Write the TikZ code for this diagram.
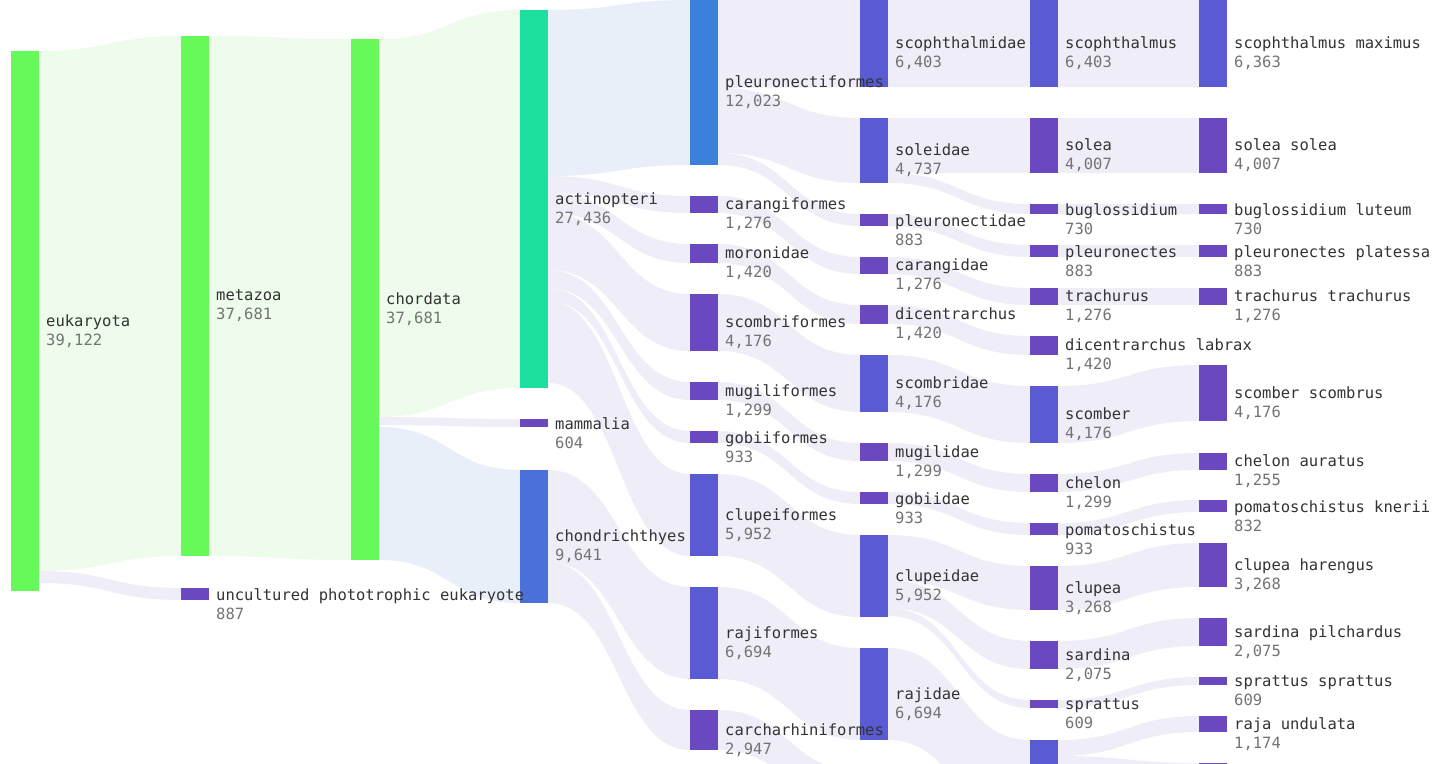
\documentclass[tikz,border=0pt]{standalone}
\usepackage{fontspec}
\setmonofont{DejaVu Sans Mono}
\usetikzlibrary{positioning}
\definecolor{greenNode}{HTML}{66F95A}
\definecolor{tealNode}{HTML}{1DE09F}
\definecolor{blueNode}{HTML}{3B80DD}
\definecolor{chondNode}{HTML}{4A70D9}
\definecolor{purpNode}{HTML}{6A48BF}
\definecolor{slateNode}{HTML}{5A5AD3}
\definecolor{greenFlow}{HTML}{EDFCEB}
\definecolor{lavFlow}{HTML}{EFEEF8}
\definecolor{blueFlow}{HTML}{E9EFF9}
\colorlet{nameColor}{black!80}
\colorlet{valColor}{black!55}
\pgfdeclarelayer{flows}
\pgfdeclarelayer{bars}
\pgfsetlayers{flows,bars,main}
\tikzset{
  lab/.style={anchor=west,align=left,inner sep=0pt,font=\ttfamily\fontsize{15.5}{19}\selectfont,text=nameColor},
}
% sankey node: name, x, top, bottom, colour, label, value
\newcommand{\sNode}[7]{%
  \begin{pgfonlayer}{bars}\fill[#5] (#2,#3) rectangle ({#2+28},#4);\end{pgfonlayer}
  \node[lab] (#1) at ({#2+35},{(#3+#4)/2+10}) {#6\\\textcolor{valColor}{#7}};}
% flow band: x1, top1, bot1, x2, top2, bot2, colour
\newcommand{\sFlow}[7]{%
  \begin{pgfonlayer}{flows}
  \fill[#7] (#1,#2) .. controls ({(#1+#4)/2},#2) and ({(#1+#4)/2},#5) .. (#4,#5)
    -- (#4,#6) .. controls ({(#1+#4)/2},#6) and ({(#1+#4)/2},#3) .. (#1,#3) -- cycle;
  \end{pgfonlayer}}
\begin{document}
\begin{tikzpicture}[x=1pt,y=-1pt]
\useasboundingbox (0,0) rectangle (1450,763);
\clip (0,0) rectangle (1450,763);
% flows
\sFlow{39}{51}{571}{181}{36}{556}{greenFlow}
\sFlow{39}{571}{583}{181}{588}{600}{lavFlow}
\sFlow{209}{36}{556}{351}{39}{560}{greenFlow}
\sFlow{379}{39}{417}{520}{10}{388}{greenFlow}
\sFlow{379}{417}{425}{520}{419}{427}{lavFlow}
\sFlow{379}{427}{560}{520}{470}{603}{blueFlow}
\sFlow{548}{10}{176}{690}{0}{165}{blueFlow}
\sFlow{548}{176}{193}{690}{196}{213}{lavFlow}
\sFlow{548}{193}{213}{690}{244}{263}{lavFlow}
\sFlow{548}{213}{270}{690}{294}{351}{lavFlow}
\sFlow{548}{270}{288}{690}{382}{400}{lavFlow}
\sFlow{548}{288}{301}{690}{431}{443}{lavFlow}
\sFlow{548}{301}{383}{690}{474}{556}{lavFlow}
\sFlow{548}{470}{562}{690}{587}{679}{lavFlow}
\sFlow{548}{562}{603}{690}{710}{750}{lavFlow}
\sFlow{718}{0}{88}{860}{0}{87}{lavFlow}
\sFlow{718}{88}{153}{860}{118}{183}{lavFlow}
\sFlow{718}{153}{165}{860}{214}{226}{lavFlow}
\sFlow{718}{196}{213}{860}{257}{274}{lavFlow}
\sFlow{718}{244}{263}{860}{305}{324}{lavFlow}
\sFlow{718}{294}{351}{860}{355}{412}{lavFlow}
\sFlow{718}{382}{400}{860}{443}{461}{lavFlow}
\sFlow{718}{431}{443}{860}{492}{504}{lavFlow}
\sFlow{718}{474}{556}{860}{535}{617}{lavFlow}
\sFlow{718}{587}{679}{860}{648}{740}{lavFlow}
\sFlow{718}{710}{750}{860}{771}{811}{lavFlow}
\sFlow{888}{0}{87}{1030}{0}{87}{lavFlow}
\sFlow{888}{118}{173}{1030}{118}{173}{lavFlow}
\sFlow{888}{173}{183}{1030}{204}{214}{lavFlow}
\sFlow{888}{214}{226}{1030}{245}{257}{lavFlow}
\sFlow{888}{257}{274}{1030}{288}{305}{lavFlow}
\sFlow{888}{305}{324}{1030}{336}{355}{lavFlow}
\sFlow{888}{355}{412}{1030}{386}{443}{lavFlow}
\sFlow{888}{443}{461}{1030}{474}{492}{lavFlow}
\sFlow{888}{492}{504}{1030}{523}{535}{lavFlow}
\sFlow{888}{535}{580}{1030}{566}{610}{lavFlow}
\sFlow{888}{580}{608}{1030}{641}{669}{lavFlow}
\sFlow{888}{608}{616}{1030}{700}{708}{lavFlow}
\sFlow{888}{648}{740}{1030}{740}{832}{lavFlow}
\sFlow{1058}{0}{87}{1199}{0}{87}{lavFlow}
\sFlow{1058}{118}{173}{1199}{118}{173}{lavFlow}
\sFlow{1058}{204}{214}{1199}{204}{214}{lavFlow}
\sFlow{1058}{245}{257}{1199}{245}{257}{lavFlow}
\sFlow{1058}{288}{305}{1199}{288}{305}{lavFlow}
\sFlow{1058}{386}{443}{1199}{365}{421}{lavFlow}
\sFlow{1058}{474}{492}{1199}{453}{470}{lavFlow}
\sFlow{1058}{523}{535}{1199}{500}{512}{lavFlow}
\sFlow{1058}{566}{610}{1199}{543}{587}{lavFlow}
\sFlow{1058}{641}{669}{1199}{618}{646}{lavFlow}
\sFlow{1058}{700}{708}{1199}{677}{685}{lavFlow}
\sFlow{1058}{740}{756}{1199}{716}{732}{lavFlow}
\sFlow{1058}{756}{800}{1199}{763}{807}{lavFlow}
% nodes
\sNode{euk}{11}{51}{591}{greenNode}{eukaryota}{39,122}
\sNode{meta}{181}{36}{556}{greenNode}{metazoa}{37,681}
\sNode{uncult}{181}{588}{600}{purpNode}{uncultured phototrophic eukaryote}{887}
\sNode{chord}{351}{39}{560}{greenNode}{chordata}{37,681}
\sNode{actino}{520}{10}{388}{tealNode}{actinopteri}{27,436}
\sNode{mamm}{520}{419}{427}{purpNode}{mammalia}{604}
\sNode{chond}{520}{470}{603}{chondNode}{chondrichthyes}{9,641}
\sNode{pleuF}{690}{0}{165}{blueNode}{pleuronectiformes}{12,023}
\sNode{caraF}{690}{196}{213}{purpNode}{carangiformes}{1,276}
\sNode{moroF}{690}{244}{263}{purpNode}{moronidae}{1,420}
\sNode{scomF}{690}{294}{351}{purpNode}{scombriformes}{4,176}
\sNode{mugiF}{690}{382}{400}{purpNode}{mugiliformes}{1,299}
\sNode{gobiF}{690}{431}{443}{purpNode}{gobiiformes}{933}
\sNode{clupF}{690}{474}{556}{slateNode}{clupeiformes}{5,952}
\sNode{rajiF}{690}{587}{679}{slateNode}{rajiformes}{6,694}
\sNode{carcF}{690}{710}{750}{purpNode}{carcharhiniformes}{2,947}
\sNode{scopD}{860}{0}{87}{slateNode}{scophthalmidae}{6,403}
\sNode{soleD}{860}{118}{183}{slateNode}{soleidae}{4,737}
\sNode{pleuD}{860}{214}{226}{purpNode}{pleuronectidae}{883}
\sNode{caraD}{860}{257}{274}{purpNode}{carangidae}{1,276}
\sNode{dicD}{860}{305}{324}{purpNode}{dicentrarchus}{1,420}
\sNode{scomD}{860}{355}{412}{slateNode}{scombridae}{4,176}
\sNode{mugiD}{860}{443}{461}{purpNode}{mugilidae}{1,299}
\sNode{gobiD}{860}{492}{504}{purpNode}{gobiidae}{933}
\sNode{clupD}{860}{535}{617}{slateNode}{clupeidae}{5,952}
\sNode{rajiD}{860}{648}{740}{slateNode}{rajidae}{6,694}
\sNode{scopG}{1030}{0}{87}{slateNode}{scophthalmus}{6,403}
\sNode{soleG}{1030}{118}{173}{purpNode}{solea}{4,007}
\sNode{bugG}{1030}{204}{214}{purpNode}{buglossidium}{730}
\sNode{pleuG}{1030}{245}{257}{purpNode}{pleuronectes}{883}
\sNode{traG}{1030}{288}{305}{purpNode}{trachurus}{1,276}
\sNode{dicG}{1030}{336}{355}{purpNode}{dicentrarchus labrax}{1,420}
\sNode{scomG}{1030}{386}{443}{slateNode}{scomber}{4,176}
\sNode{chelG}{1030}{474}{492}{purpNode}{chelon}{1,299}
\sNode{pomaG}{1030}{523}{535}{purpNode}{pomatoschistus}{933}
\sNode{clupG}{1030}{566}{610}{purpNode}{clupea}{3,268}
\sNode{sardG}{1030}{641}{669}{purpNode}{sardina}{2,075}
\sNode{sprG}{1030}{700}{708}{purpNode}{sprattus}{609}
\begin{pgfonlayer}{bars}\fill[slateNode] (1030,740) rectangle (1058,832);\end{pgfonlayer}
\sNode{scopS}{1199}{0}{87}{slateNode}{scophthalmus maximus}{6,363}
\sNode{soleS}{1199}{118}{173}{purpNode}{solea solea}{4,007}
\sNode{bugS}{1199}{204}{214}{purpNode}{buglossidium luteum}{730}
\sNode{pleuS}{1199}{245}{257}{purpNode}{pleuronectes platessa}{883}
\sNode{traS}{1199}{288}{305}{purpNode}{trachurus trachurus}{1,276}
\sNode{scomS}{1199}{365}{421}{purpNode}{scomber scombrus}{4,176}
\sNode{chelS}{1199}{453}{470}{purpNode}{chelon auratus}{1,255}
\sNode{pomaS}{1199}{500}{512}{purpNode}{pomatoschistus knerii}{832}
\sNode{clupS}{1199}{543}{587}{purpNode}{clupea harengus}{3,268}
\sNode{sardS}{1199}{618}{646}{purpNode}{sardina pilchardus}{2,075}
\sNode{sprS}{1199}{677}{685}{purpNode}{sprattus sprattus}{609}
\sNode{rajaS}{1199}{716}{732}{purpNode}{raja undulata}{1,174}
\begin{pgfonlayer}{bars}\fill[purpNode] (1199,763) rectangle (1227,807);\end{pgfonlayer}
\end{tikzpicture}
\end{document}
